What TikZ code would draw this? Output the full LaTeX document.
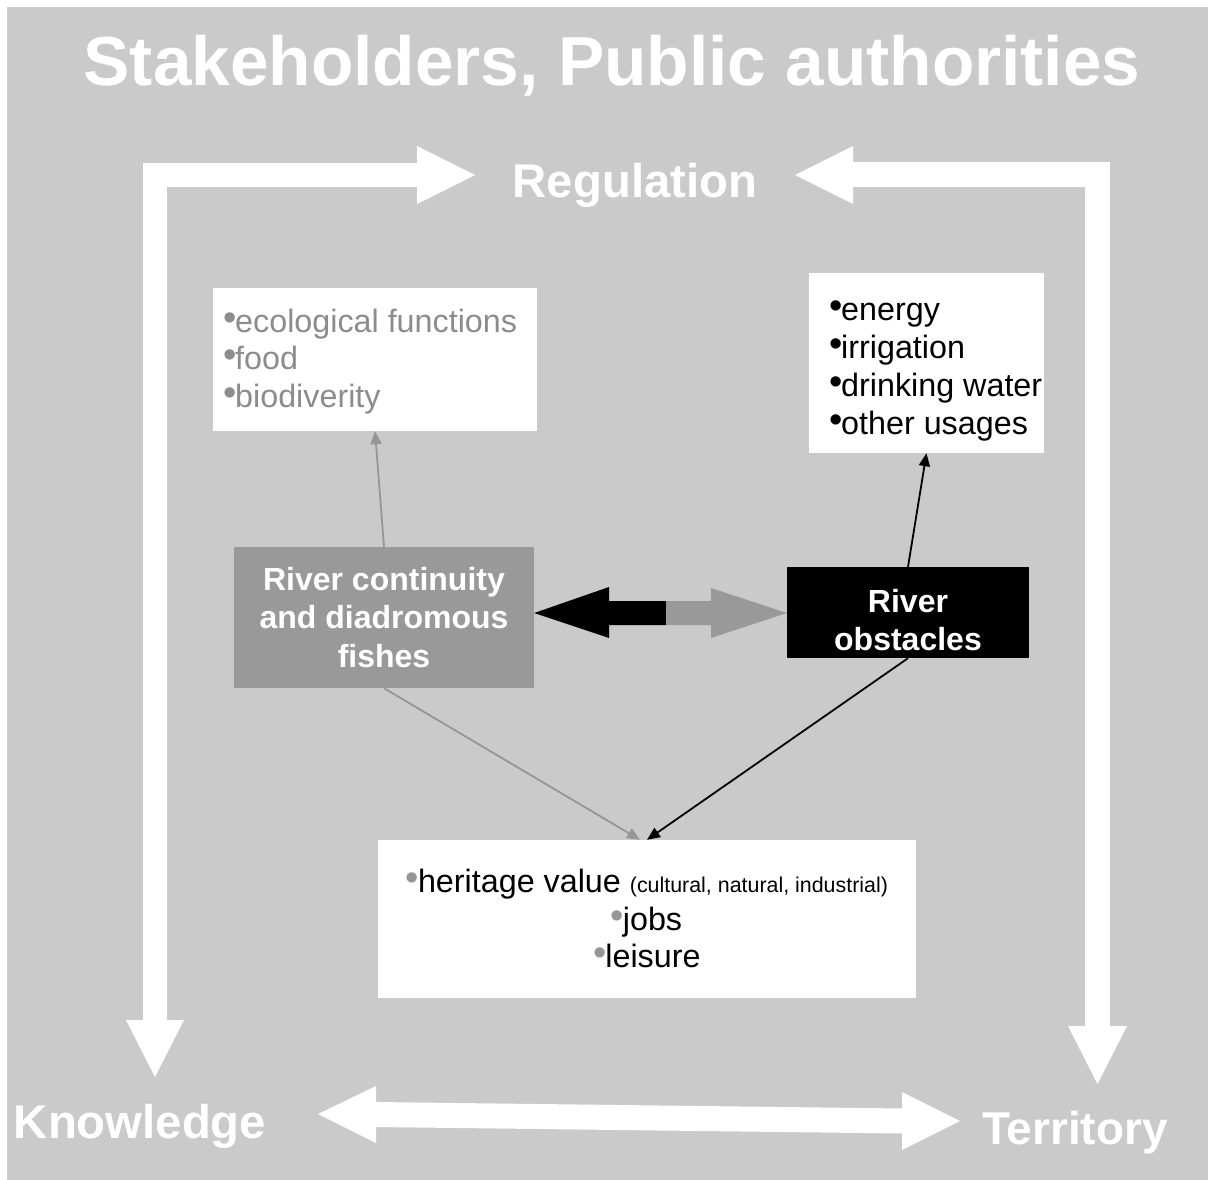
\documentclass[tikz,border=0pt]{standalone}
\usepackage{fontspec}
\setmainfont{Liberation Sans}
\usetikzlibrary{arrows.meta}
\definecolor{bg}{RGB}{202,202,202}
\definecolor{boxgray}{RGB}{153,153,153}
\definecolor{txtgray}{RGB}{140,140,140}
\definecolor{linegray}{RGB}{150,150,150}
\newcommand{\bul}{\makebox[11pt]{\raisebox{2pt}{\fontsize{38}{38}\selectfont •}}}
\begin{document}
\begin{tikzpicture}[x=1pt,y=-1pt,
  box/.style={inner sep=0pt, draw=none},
  body/.style={inner sep=0pt, font=\fontsize{32.3}{38.5}\selectfont},
  bold/.style={inner sep=0pt, text=white, align=center, font=\bfseries\fontsize{32}{38.5}\selectfont},
  lab/.style={inner sep=0pt, text=white, font=\bfseries\fontsize{47.3}{55}\selectfont},
  frame/.style={white, line width=24pt},
  conn/.style={line width=1.8pt, -{Triangle[length=13pt,width=11pt]}}]
\useasboundingbox (0,0) rectangle (1208,1180);
\fill[white] (0,0) rectangle (1208,1180);
\fill[bg] (7,7) rectangle (1208,1180);

% title and corner labels
\node[inner sep=0pt, text=white, anchor=base, font=\bfseries\fontsize{69.4}{80}\selectfont] (title) at (612,86) {Stakeholders, Public authorities};
\node[lab, anchor=base] (reg) at (635,197) {Regulation};
\node[lab, anchor=base] (know) at (140,1138) {Knowledge};
\node[lab, anchor=base, font=\bfseries\fontsize{46}{55}\selectfont] (terr) at (1075,1144) {Territory};

% frame arrows
\draw[frame] (155,1021) -- (155,175) -- (418,175);
\fill[white] (417,146) -- (475,175) -- (417,204) -- cycle;
\fill[white] (126,1020) -- (184,1020) -- (155,1077) -- cycle;
\draw[frame, line width=25pt] (852,175) -- (1097.5,175) -- (1097.5,1027);
\fill[white] (853,146) -- (795,175) -- (853,204) -- cycle;
\fill[white] (1068,1026) -- (1127,1026) -- (1097.5,1084) -- cycle;
\draw[frame, line width=25pt] (375,1114.5) -- (903,1121);
\fill[white] (376,1086) -- (318,1114) -- (376,1143) -- cycle;
\fill[white] (902,1092) -- (960,1121) -- (902,1150) -- cycle;

% boxes
\node[box, fill=white, minimum width=324pt, minimum height=143pt] (eco) at (375,359.5) {};
\node[box, fill=white, minimum width=235pt, minimum height=180pt] (use) at (926.5,363) {};
\node[box, fill=boxgray, minimum width=300pt, minimum height=141pt] (cont) at (384,617.5) {};
\node[box, fill=black, minimum width=242pt, minimum height=91pt] (obs) at (908,612.5) {};
\node[box, fill=white, minimum width=538pt, minimum height=158pt] (her) at (647,919) {};

% box texts
\node[bold] (contt) at (384,617.5) {River continuity\\and diadromous\\fishes};
\node[bold] (obst) at (908,620) {River\\obstacles};

\node[body, anchor=base west, text=txtgray] (eco1) at (224,332) {\bul ecological functions};
\node[body, anchor=base west, text=txtgray] (eco2) at (224,369.5) {\bul food};
\node[body, anchor=base west, text=txtgray] (eco3) at (224,407) {\bul biodiverity};

\node[body, anchor=base west] (use1) at (830,320) {\bul energy};
\node[body, anchor=base west] (use2) at (830,358) {\bul irrigation};
\node[body, anchor=base west] (use3) at (830,396) {\bul drinking water};
\node[body, anchor=base west] (use4) at (830,434) {\bul other usages};

\node[body, anchor=base] (her1) at (647.5,892) {{\color{linegray}\bul}heritage value {\fontsize{21.4}{25}\selectfont(cultural, natural, industrial)}};
\node[body, anchor=base] (her2) at (647,930) {{\color{linegray}\bul}jobs};
\node[body, anchor=base] (her3) at (647.5,967) {{\color{linegray}\bul}leisure};

% central double arrow
\fill[black] (cont.east |- 0,613) -- (609,587) -- (609,601) -- (666,601) -- (666,625) -- (609,625) -- (609,638) -- cycle;
\fill[boxgray] (666,601) -- (711,601) -- (711,588) -- (obs.west |- 0,613) -- (711,638) -- (711,625) -- (666,625) -- cycle;

% connectors
\draw[conn, linegray] (cont.north) -- (eco.south);
\draw[conn, black] (obs.north) -- (use.south);
\draw[conn, linegray] (cont.south) -- ([xshift=-7pt]her.north);
\draw[conn, black] (obs.south) -- (her.north);
\end{tikzpicture}
\end{document}
